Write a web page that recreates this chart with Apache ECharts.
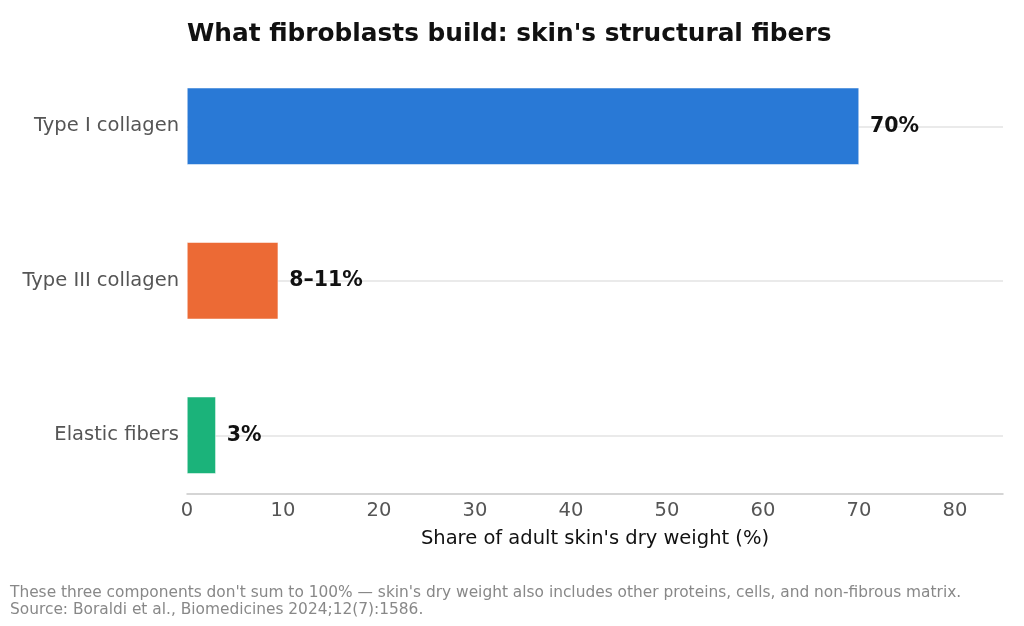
<html>
<head>
    <meta charset="utf-8">
    <title>What fibroblasts build</title>
    <script src="https://cdn.jsdelivr.net/npm/echarts@6/dist/echarts.min.js"></script>
    <style>
        body { margin: 0; background: #fff; }
    </style>
</head>
<body>
<div id="chartmain" style="width: 1024px; height: 626px;"></div>
</body>
<script type="text/javascript">
    // data (bottom to top, as the category axis draws them)
    var categories = ['Elastic fibers', 'Type III collagen', 'Type I collagen'];
    var values = [3, 9.5, 70];
    var valueLabels = ['3%', '8–11%', '70%'];
    var barColors = ['#1bb37a', '#ec6a35', '#2979d6'];
    var xTicks = [0, 10, 20, 30, 40, 50, 60, 70, 80];

    var font = 'DejaVu Sans';

    var seriesData = [];
    for (var i = 0; i < values.length; i++) {
        seriesData.push({
            value: values[i],
            itemStyle: { color: barColors[i] },
            label: { formatter: valueLabels[i] }
        });
    }

    var myChart = echarts.init(document.getElementById('chartmain'));
    var option = {
        backgroundColor: '#fff',
        animation: false,
        title: {
            text: "What fibroblasts build: skin's structural fibers",
            left: 182,
            top: 17,
            textStyle: { fontFamily: font, fontSize: 24.8, fontWeight: 'bold', color: '#111' }
        },
        graphic: [{
            type: 'text',
            left: 10,
            top: 585,
            style: {
                text: "These three components don't sum to 100% — skin's dry weight also includes other proteins, cells, and non-fibrous matrix.\nSource: Boraldi et al., Biomedicines 2024;12(7):1586.",
                font: '15.4px "DejaVu Sans"',
                fill: '#888',
                lineHeight: 16.5
            }
        }],
        grid: {
            left: 187,
            right: 21,
            top: 49,
            bottom: 113.5
        },
        xAxis: {
            type: 'value',
            min: 0,
            max: 85,
            interval: 10,
            offset: -19,
            axisLine: { show: true, lineStyle: { color: '#c8c8c8', width: 1.5 } },
            axisTick: { show: false },
            splitLine: { show: false },
            axisLabel: {
                fontFamily: font, fontSize: 19.5, color: '#555', margin: 7,
                formatter: function (v) { return xTicks.indexOf(v) >= 0 ? String(v) : ''; }
            },
            name: "Share of adult skin's dry weight (%)",
            nameLocation: 'middle',
            nameGap: 35,
            nameTextStyle: { fontFamily: font, fontSize: 19.5, color: '#111' }
        },
        yAxis: {
            type: 'category',
            data: categories,
            axisLine: { show: false },
            axisTick: { show: false },
            splitLine: { show: true, alignWithLabel: true, lineStyle: { color: '#e3e3e3', width: 1.5 } },
            axisLabel: { fontFamily: font, fontSize: 19.5, color: '#555', margin: 8, padding: [4, 0, 0, 0] }
        },
        series: [{
            type: 'bar',
            data: seriesData,
            barWidth: 77,
            itemStyle: { borderColor: '#fff', borderWidth: 0.5 },
            label: {
                show: true,
                position: 'right',
                distance: 11,
                fontFamily: font,
                fontSize: 20.5,
                fontWeight: 'bold',
                color: '#111'
            }
        }]
    };
    myChart.setOption(option);
</script>
</html>
